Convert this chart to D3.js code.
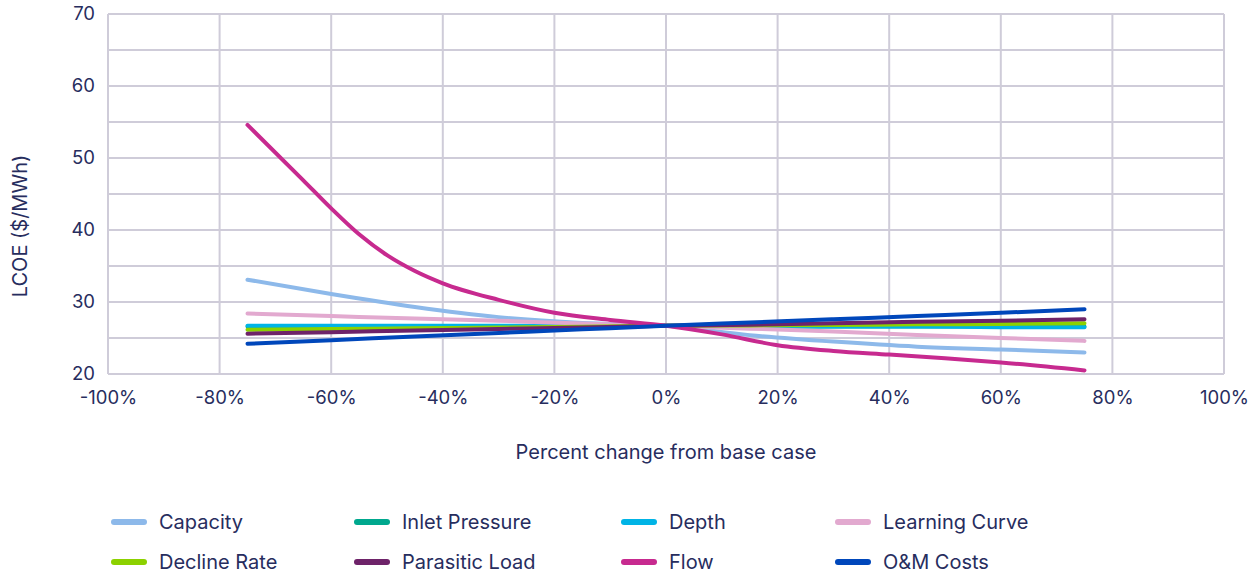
<!DOCTYPE html>
<html><head><meta charset="utf-8">
<script src="https://cdn.jsdelivr.net/npm/d3@7"></script>
<style>
html,body{margin:0;padding:0;background:#fff;}
svg{display:block;font-family:Inter, "Noto Sans", sans-serif;}
</style></head>
<body>
<svg id="chart" width="1257" height="575"></svg>
<script>
const pct = [-75,-60,-45,-30,-15,0,15,30,45,60,75];
const capacity      = [33.1,31.1,29.3,27.9,27.1,26.7,25.4,24.5,23.8,23.4,23.0];
const inletPressure = [26.6,26.6,26.6,26.6,26.6,26.7,26.6,26.6,26.6,26.6,26.6];
const depth         = [26.7,26.7,26.7,26.7,26.7,26.7,26.6,26.6,26.6,26.5,26.5];
const learningCurve = [28.4,28.05,27.7,27.4,27.0,26.7,26.3,25.9,25.4,25.0,24.6];
const declineRate   = [26.15,26.25,26.35,26.45,26.55,26.7,26.75,26.8,26.9,26.95,27.05];
const parasiticLoad = [25.6,25.8,26.05,26.25,26.45,26.7,26.85,27.05,27.25,27.4,27.6];
const omCosts       = [24.2,24.7,25.2,25.7,26.2,26.7,27.15,27.6,28.05,28.5,29.0];

const flowPct = [-75,-65,-60,-55,-50,-45,-40,-30,-20,-10,0,10,20,30,40,50,60,75];
const flow    = [54.6,46.9,43.0,39.4,36.5,34.3,32.6,30.3,28.5,27.5,26.7,25.5,24.0,23.2,22.7,22.2,21.6,20.5];

const seriesNames  = ["Capacity","Inlet Pressure","Depth","Learning Curve","Decline Rate","Parasitic Load","Flow","O&M Costs"];
const seriesValues = [capacity,inletPressure,depth,learningCurve,declineRate,parasiticLoad,flow,omCosts];
const seriesX      = [pct,pct,pct,pct,pct,pct,flowPct,pct];
const seriesColors = ["#8db9ea","#00a88e","#00b4e6","#e2a9cf","#8cd100","#6e2369","#c72a8f","#0047bb"];

const xTicks = [-100,-80,-60,-40,-20,0,20,40,60,80,100];
const yTicks = [20,30,40,50,60,70];
const yGrid  = [20,25,30,35,40,45,50,55,60,65,70];

(function(){
const svg = d3.select("#chart");
const pl = 108, pr = 1224, pt = 14, pb = 374;
const x = d3.scaleLinear().domain([-100,100]).range([pl,pr]);
const y = d3.scaleLinear().domain([20,70]).range([pb,pt]);
const textColor = "#272d5e";
const gridColor = "#cfccd9";

const g = svg.append("g");
g.selectAll(".hg").data(yGrid).enter().append("line")
  .attr("x1",pl).attr("x2",pr).attr("y1",d=>y(d)).attr("y2",d=>y(d))
  .attr("stroke",gridColor).attr("stroke-width",2);
g.selectAll(".vg").data(xTicks).enter().append("line")
  .attr("y1",pt).attr("y2",pb).attr("x1",d=>x(d)).attr("x2",d=>x(d))
  .attr("stroke",gridColor).attr("stroke-width",2);

const yAxis = d3.axisLeft(y).tickValues(yTicks).tickSize(0).tickPadding(13);
const ya = svg.append("g").attr("transform",`translate(${pl},0)`).call(yAxis);
ya.select(".domain").remove();
ya.selectAll("text").attr("fill",textColor).style("font-size","18.5px").style("font-family","Inter, sans-serif");

const xAxis = d3.axisBottom(x).tickValues(xTicks).tickSize(0).tickPadding(17).tickFormat(d=>d+"%");
const xa = svg.append("g").attr("transform",`translate(0,${pb})`).call(xAxis);
xa.select(".domain").remove();
xa.selectAll("text").attr("fill",textColor).style("font-size","18.5px").style("font-family","Inter, sans-serif");

svg.append("text").attr("x",(pl+pr)/2).attr("y",459).attr("text-anchor","middle")
  .attr("fill",textColor).style("font-size","20px").text("Percent change from base case");
svg.append("text").attr("transform","translate(27,226) rotate(-90)").attr("text-anchor","middle")
  .attr("fill",textColor).style("font-size","20px").text("LCOE ($/MWh)");

seriesValues.forEach((vals,k)=>{
  const xs = seriesX[k];
  const line = d3.line().x((d,i)=>x(xs[i])).y(d=>y(d)).curve(d3.curveMonotoneX);
  svg.append("path").datum(vals).attr("d",line)
    .attr("fill","none").attr("stroke",seriesColors[k]).attr("stroke-width",4)
    .attr("stroke-linecap","round").attr("stroke-linejoin","round");
});

const colX = [111,354,621,835];
const rowY = [522,562];
seriesNames.forEach((name,i)=>{
  const cx = colX[i%4], cy = rowY[Math.floor(i/4)];
  const lg = svg.append("g");
  lg.append("line").attr("x1",cx+3).attr("x2",cx+33).attr("y1",cy).attr("y2",cy)
    .attr("stroke",seriesColors[i]).attr("stroke-width",6).attr("stroke-linecap","round");
  lg.append("text").attr("x",cx+48).attr("y",cy).attr("dy","0.35em")
    .attr("fill",textColor).style("font-size","20px").text(name);
});
})();
</script>
</body></html>
